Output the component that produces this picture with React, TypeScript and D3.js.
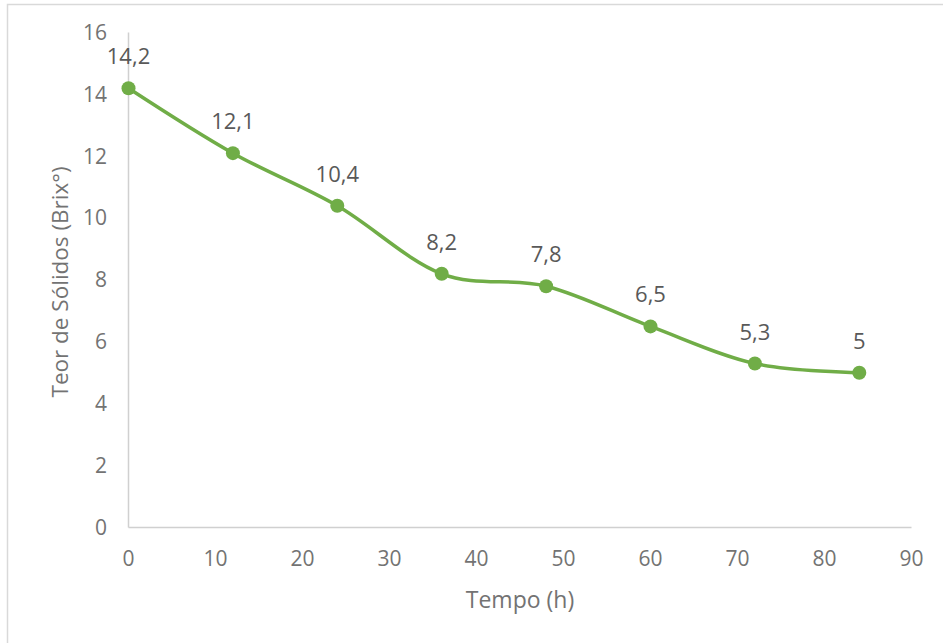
import { useEffect, useRef } from 'react';
import * as d3 from 'd3';

const hours = [0, 12, 24, 36, 48, 60, 72, 84];
const brix = [14.2, 12.1, 10.4, 8.2, 7.8, 6.5, 5.3, 5];
const xTicks = [0, 10, 20, 30, 40, 50, 60, 70, 80, 90];
const yTicks = [0, 2, 4, 6, 8, 10, 12, 14, 16];

const WIDTH = 943;
const HEIGHT = 643;
const FONT = '"Open Sans", "Noto Sans", sans-serif';

export default function App() {
  const svgRef = useRef<SVGSVGElement>(null);

  useEffect(() => {
    if (!svgRef.current) return;
    const svg = d3.select(svgRef.current);
    svg.selectAll('*').remove();

    const x = d3.scaleLinear().domain([0, 90]).range([128.5, 911.5]);
    const y = d3.scaleLinear().domain([0, 16]).range([527.5, 32.5]);

    // chart frame (runs off the right / bottom edge)
    svg.append('rect')
      .attr('x', 7.5)
      .attr('y', 4.5)
      .attr('width', WIDTH + 20)
      .attr('height', HEIGHT + 20)
      .attr('fill', '#fff')
      .attr('stroke', '#d9d9d9')
      .attr('stroke-width', 1.5);

    // axes lines
    svg.append('line')
      .attr('x1', x(0)).attr('x2', x(0))
      .attr('y1', y(16)).attr('y2', y(0))
      .attr('stroke', '#d0d0d0').attr('stroke-width', 1.5);
    svg.append('line')
      .attr('x1', x(0)).attr('x2', x(90))
      .attr('y1', y(0)).attr('y2', y(0))
      .attr('stroke', '#d0d0d0').attr('stroke-width', 1.5);

    // tick labels
    svg.append('g')
      .selectAll('text')
      .data(yTicks)
      .enter()
      .append('text')
      .attr('x', 107)
      .attr('y', d => y(d))
      .attr('dy', '0.35em')
      .attr('text-anchor', 'end')
      .attr('font-size', '21px')
      .attr('font-family', FONT)
      .attr('fill', '#737373')
      .text(d => d);

    svg.append('g')
      .selectAll('text')
      .data(xTicks)
      .enter()
      .append('text')
      .attr('x', d => x(d))
      .attr('y', 566)
      .attr('text-anchor', 'middle')
      .attr('font-size', '21px')
      .attr('font-family', FONT)
      .attr('fill', '#737373')
      .text(d => d);

    // axis titles
    svg.append('text')
      .attr('x', (x(0) + x(90)) / 2)
      .attr('y', 608)
      .attr('text-anchor', 'middle')
      .attr('font-size', '23px')
      .attr('font-family', FONT)
      .attr('fill', '#737373')
      .text('Tempo (h)');

    svg.append('text')
      .attr('transform', `translate(68, ${y(8) + 2}) rotate(-90)`)
      .attr('text-anchor', 'middle')
      .attr('font-size', '22.5px')
      .attr('font-family', FONT)
      .attr('fill', '#737373')
      .text('Teor de Sólidos (Brix°)');

    const points = hours.map((h, i) => ({ h, v: brix[i] }));

    const line = d3.line<{ h: number; v: number }>()
      .x(d => x(d.h))
      .y(d => y(d.v))
      .curve(d3.curveCardinal.tension(0));

    svg.append('path')
      .datum(points)
      .attr('d', line)
      .attr('fill', 'none')
      .attr('stroke', '#70ad47')
      .attr('stroke-width', 3.5)
      .attr('stroke-linecap', 'round');

    svg.append('g')
      .selectAll('circle')
      .data(points)
      .enter()
      .append('circle')
      .attr('cx', d => x(d.h))
      .attr('cy', d => y(d.v))
      .attr('r', 7)
      .attr('fill', '#70ad47');

    // data labels
    svg.append('g')
      .selectAll('text')
      .data(points)
      .enter()
      .append('text')
      .attr('x', d => x(d.h))
      .attr('y', d => y(d.v) - 24)
      .attr('text-anchor', 'middle')
      .attr('font-size', '22px')
      .attr('font-family', FONT)
      .attr('fill', '#595959')
      .text(d => String(d.v).replace('.', ','));
  }, []);

  return (
    <svg
      ref={svgRef}
      width={WIDTH}
      height={HEIGHT}
      style={{ position: 'absolute', left: 0, top: 0, background: '#fff' }}
    />
  );
}
